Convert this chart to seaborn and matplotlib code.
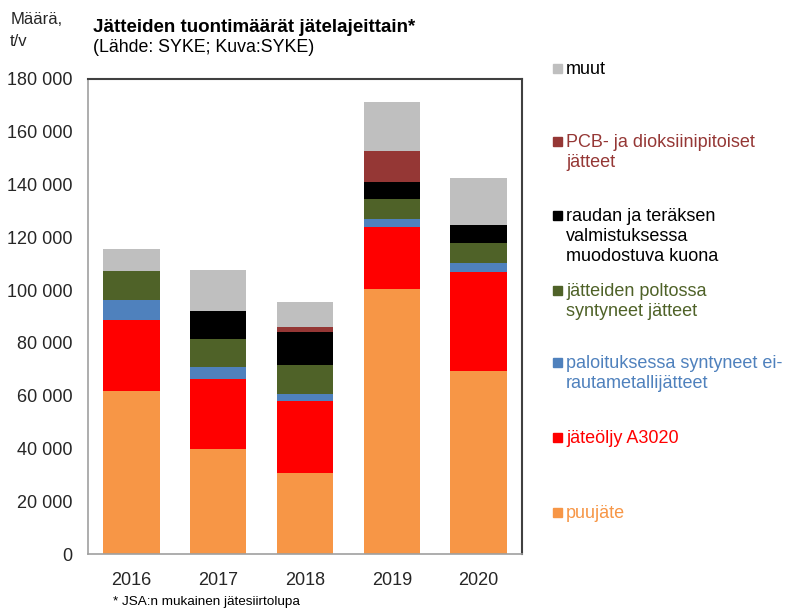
import numpy as np
import pandas as pd
import matplotlib
matplotlib.use('Agg')
import matplotlib.pyplot as plt
import seaborn as sns
from matplotlib.patches import Rectangle

sns.set_style('white')
plt.rcParams['font.family'] = ['Liberation Sans', 'DejaVu Sans']

# ==============================
# DATA (t/v)
# ==============================
years = ['2016', '2017', '2018', '2019', '2020']

puujate = [61900, 39700, 30800, 100400, 69200]
jateoljy = [26700, 26500, 27000, 23500, 37500]
paloituksessa = [7700, 4700, 3000, 3000, 3600]
poltossa = [10900, 10500, 11000, 7800, 7700]
kuona = [0, 10800, 12500, 6300, 6800]
pcb = [0, 0, 1600, 11900, 0]
muut = [8300, 15500, 9700, 18200, 17700]

series_names = [
    'puujäte',
    'jäteöljy A3020',
    'paloituksessa syntyneet ei-\nrautametallijätteet',
    'jätteiden poltossa\nsyntyneet jätteet',
    'raudan ja teräksen\nvalmistuksessa\nmuodostuva kuona',
    'PCB- ja dioksiinipitoiset\njätteet',
    'muut',
]
series_values = [puujate, jateoljy, paloituksessa, poltossa, kuona, pcb, muut]
colors = ['#F79646', '#FF0000', '#4F81BD', '#4F6228', '#000000', '#953735', '#BFBFBF']
text_colors = ['#F79646', '#FF0000', '#4F81BD', '#4F6228', '#000000', '#953735', '#000000']

df = pd.DataFrame(dict(zip(series_names, series_values)), index=years)
cum = df.cumsum(axis=1)

# ==============================
# PLOT
# ==============================
fig = plt.figure(figsize=(7.88, 6.10), dpi=100)
ax = fig.add_axes([0.1117, 0.0918, 0.5508, 0.7787])

# stacked bars: draw cumulative totals from top layer down
for name, col in reversed(list(zip(series_names, colors))):
    sns.barplot(x=years, y=cum[name].values, color=col, width=0.65,
                errorbar=None, linewidth=0, saturation=1, ax=ax)

ax.set_ylim(0, 180000)
ax.set_xlim(-0.5, 4.5)
ax.set_yticks(np.arange(0, 180001, 20000))
ax.set_yticklabels([f'{v:,}'.replace(',', ' ') for v in range(0, 180001, 20000)])
ax.tick_params(axis='both', labelsize=13, colors='#262626', length=0, pad=11)
ax.tick_params(axis='x', pad=13)
ax.set_xlabel('')
ax.set_ylabel('')

for s in ['left', 'bottom']:
    ax.spines[s].set_color('#A0A0A0')
    ax.spines[s].set_linewidth(1.2)
for s in ['top', 'right']:
    ax.spines[s].set_color('#404040')
    ax.spines[s].set_linewidth(1.5)
    ax.spines[s].set_visible(True)

# titles
fig.text(0.118, 0.955, 'Jätteiden tuontimäärät jätelajeittain*', fontsize=13.5,
         fontweight='bold', ha='left', va='center', color='#000000')
fig.text(0.118, 0.922, '(Lähde: SYKE; Kuva:SYKE)', fontsize=12.8,
         ha='left', va='center', color='#000000')
fig.text(0.013, 0.950, 'Määrä,\nt/v', fontsize=12, ha='left', va='center',
         color='#262626', linespacing=1.6)
fig.text(0.143, 0.004, '* JSA:n mukainen jätesiirtolupa', fontsize=9.7,
         ha='left', va='bottom', color='#000000')

# legend (Excel-style, evenly spaced entries)
leg_top = [68, 141, 215, 290, 362, 437, 512]
for name, col, tcol, ytop in zip(reversed(series_names), reversed(colors),
                                 reversed(text_colors), leg_top):
    yfig = 1 - ytop / 610
    fig.patches.append(Rectangle((553 / 788, yfig - 5 / 610), 9 / 788, 9 / 610,
                                 transform=fig.transFigure, color=col,
                                 figure=fig))
    fig.text(566 / 788, yfig + 7 / 610, name, fontsize=13, ha='left', va='top',
             color=tcol, linespacing=1.22)

fig.savefig('out.png', dpi=100)
